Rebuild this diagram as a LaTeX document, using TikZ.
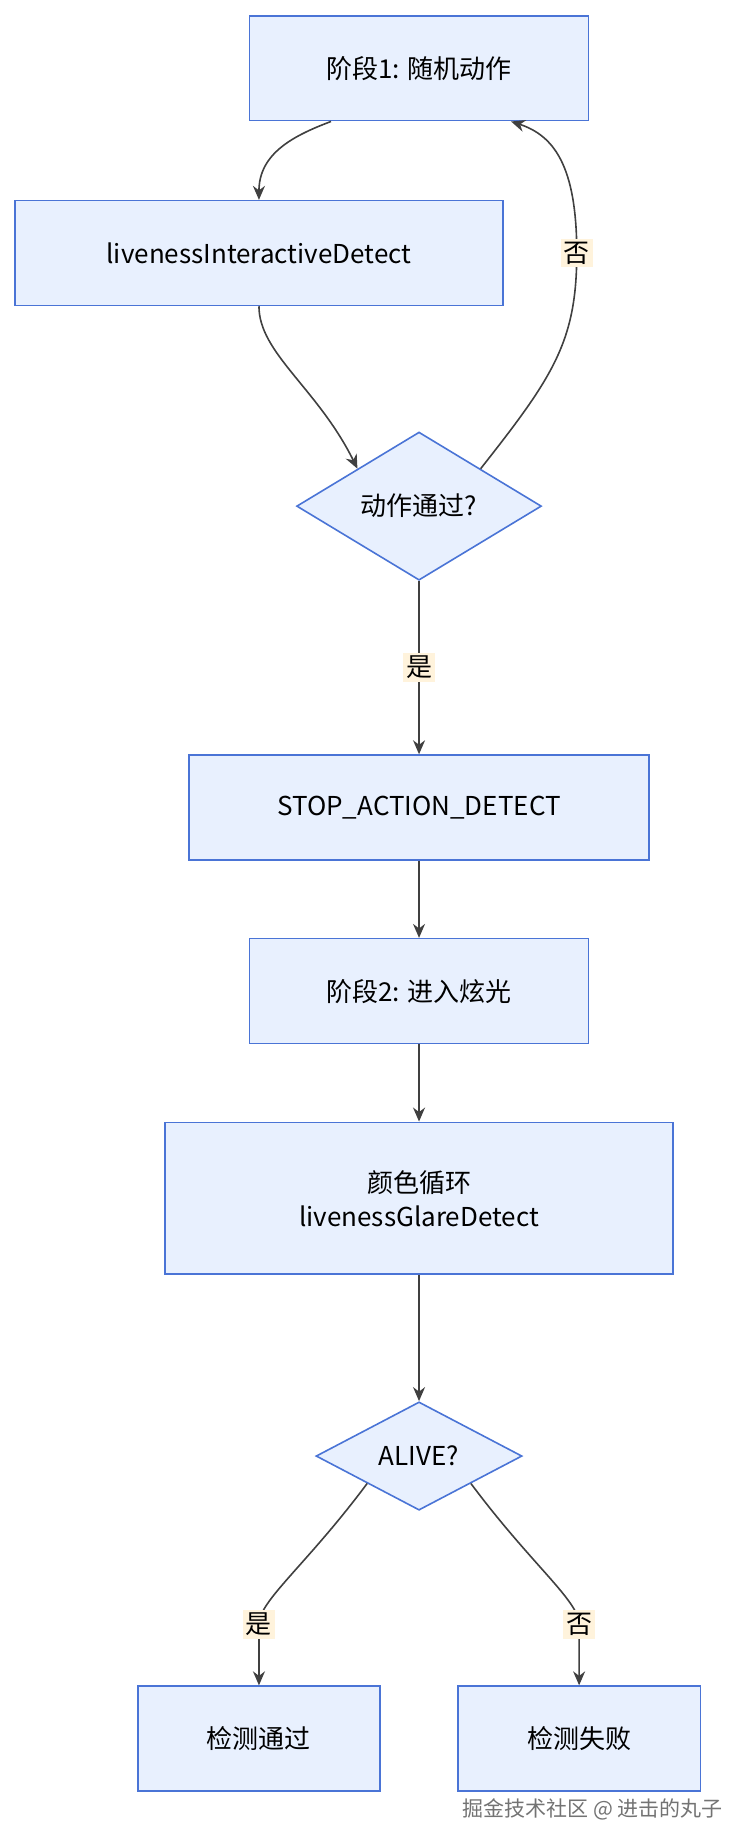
\documentclass[tikz,border=0pt]{standalone}
\usepackage{fontspec}
\setmainfont{Noto Sans CJK SC}
\usetikzlibrary{shapes.geometric,arrows.meta}
\definecolor{boxfill}{HTML}{E8F0FE}
\definecolor{boxline}{HTML}{4A74D6}
\definecolor{lblfill}{HTML}{FFF3DC}
\begin{document}
\begin{tikzpicture} [
    x=0.5885pt, y=-0.5885pt,
    box/.style  = {draw=boxline, fill=boxfill, thick,
                   minimum height=52.4pt,
                   align=center,
                   font=\fontsize{13}{17}\selectfont},
    dec/.style  = {draw=boxline, fill=boxfill, thick,
                   diamond, aspect=1, inner sep=1pt,
                   font=\fontsize{13}{17}\selectfont},
    arr/.style  = {thick, draw=black!75,
                   -{Stealth[length=7pt,width=6pt]}},
    lbl/.style  = {fill=lblfill, inner sep=1.5pt,
                   font=\fontsize{13}{17}\selectfont}
]
\useasboundingbox (0,0) rectangle (623.6,1570);
\node (s1)    [box, minimum width=169.5pt] at (356,58)  {阶段1: 随机动作};
\node (inter) [box, minimum width=244.2pt] at (220,215) {livenessInteractiveDetect};
\node (pass)  [dec, minimum width=122.4pt] at (356,430) {动作通过?};
\node (stop)  [box, minimum width=230.1pt] at (356,686) {STOP\_ACTION\_DETECT};
\node (s2)    [box, minimum width=169.5pt] at (356,842) {阶段2: 进入炫光};
\node (glare) [box, minimum width=254.2pt, minimum height=75.9pt] at (356,1018) {颜色循环\\livenessGlareDetect};
\node (alive) [dec, minimum width=103pt] at (356,1237) {ALIVE?};
\node (ok)    [box, minimum width=121.2pt] at (220,1477) {检测通过};
\node (fail)  [box, minimum width=121.2pt] at (492,1477) {检测失败};
% watermark
\node (wm) [font=\fontsize{10.5}{12}\selectfont, text=black!55, anchor=east] at (620,1537) {掘金技术社区 @ 进击的丸子};

\draw[arr] ([xshift=-44pt]s1.south) .. controls (250,115) and (220,130) .. (inter.north);
\draw[arr] (inter.south) .. controls (220,300) and (270,330) .. (pass.north west);
\draw[arr] (pass.north east) .. controls (470,320) and (490,290) .. (490,215)
    node[lbl] {否} .. controls (490,140) and (470,115) .. ([xshift=46pt]s1.south);
\draw[arr] (pass.south) -- node[lbl] {是} (stop.north);
\draw[arr] (stop) -- (s2);
\draw[arr] (s2) -- (glare);
\draw[arr] (glare) -- (alive);
\draw[arr] (alive.south west) .. controls (260,1330) and (220,1360) .. (220,1380)
    node[lbl] {是} -- (ok.north);
\draw[arr] (alive.south east) .. controls (452,1330) and (492,1360) .. (492,1380)
    node[lbl] {否} -- (fail.north);
\end{tikzpicture}
\end{document}
